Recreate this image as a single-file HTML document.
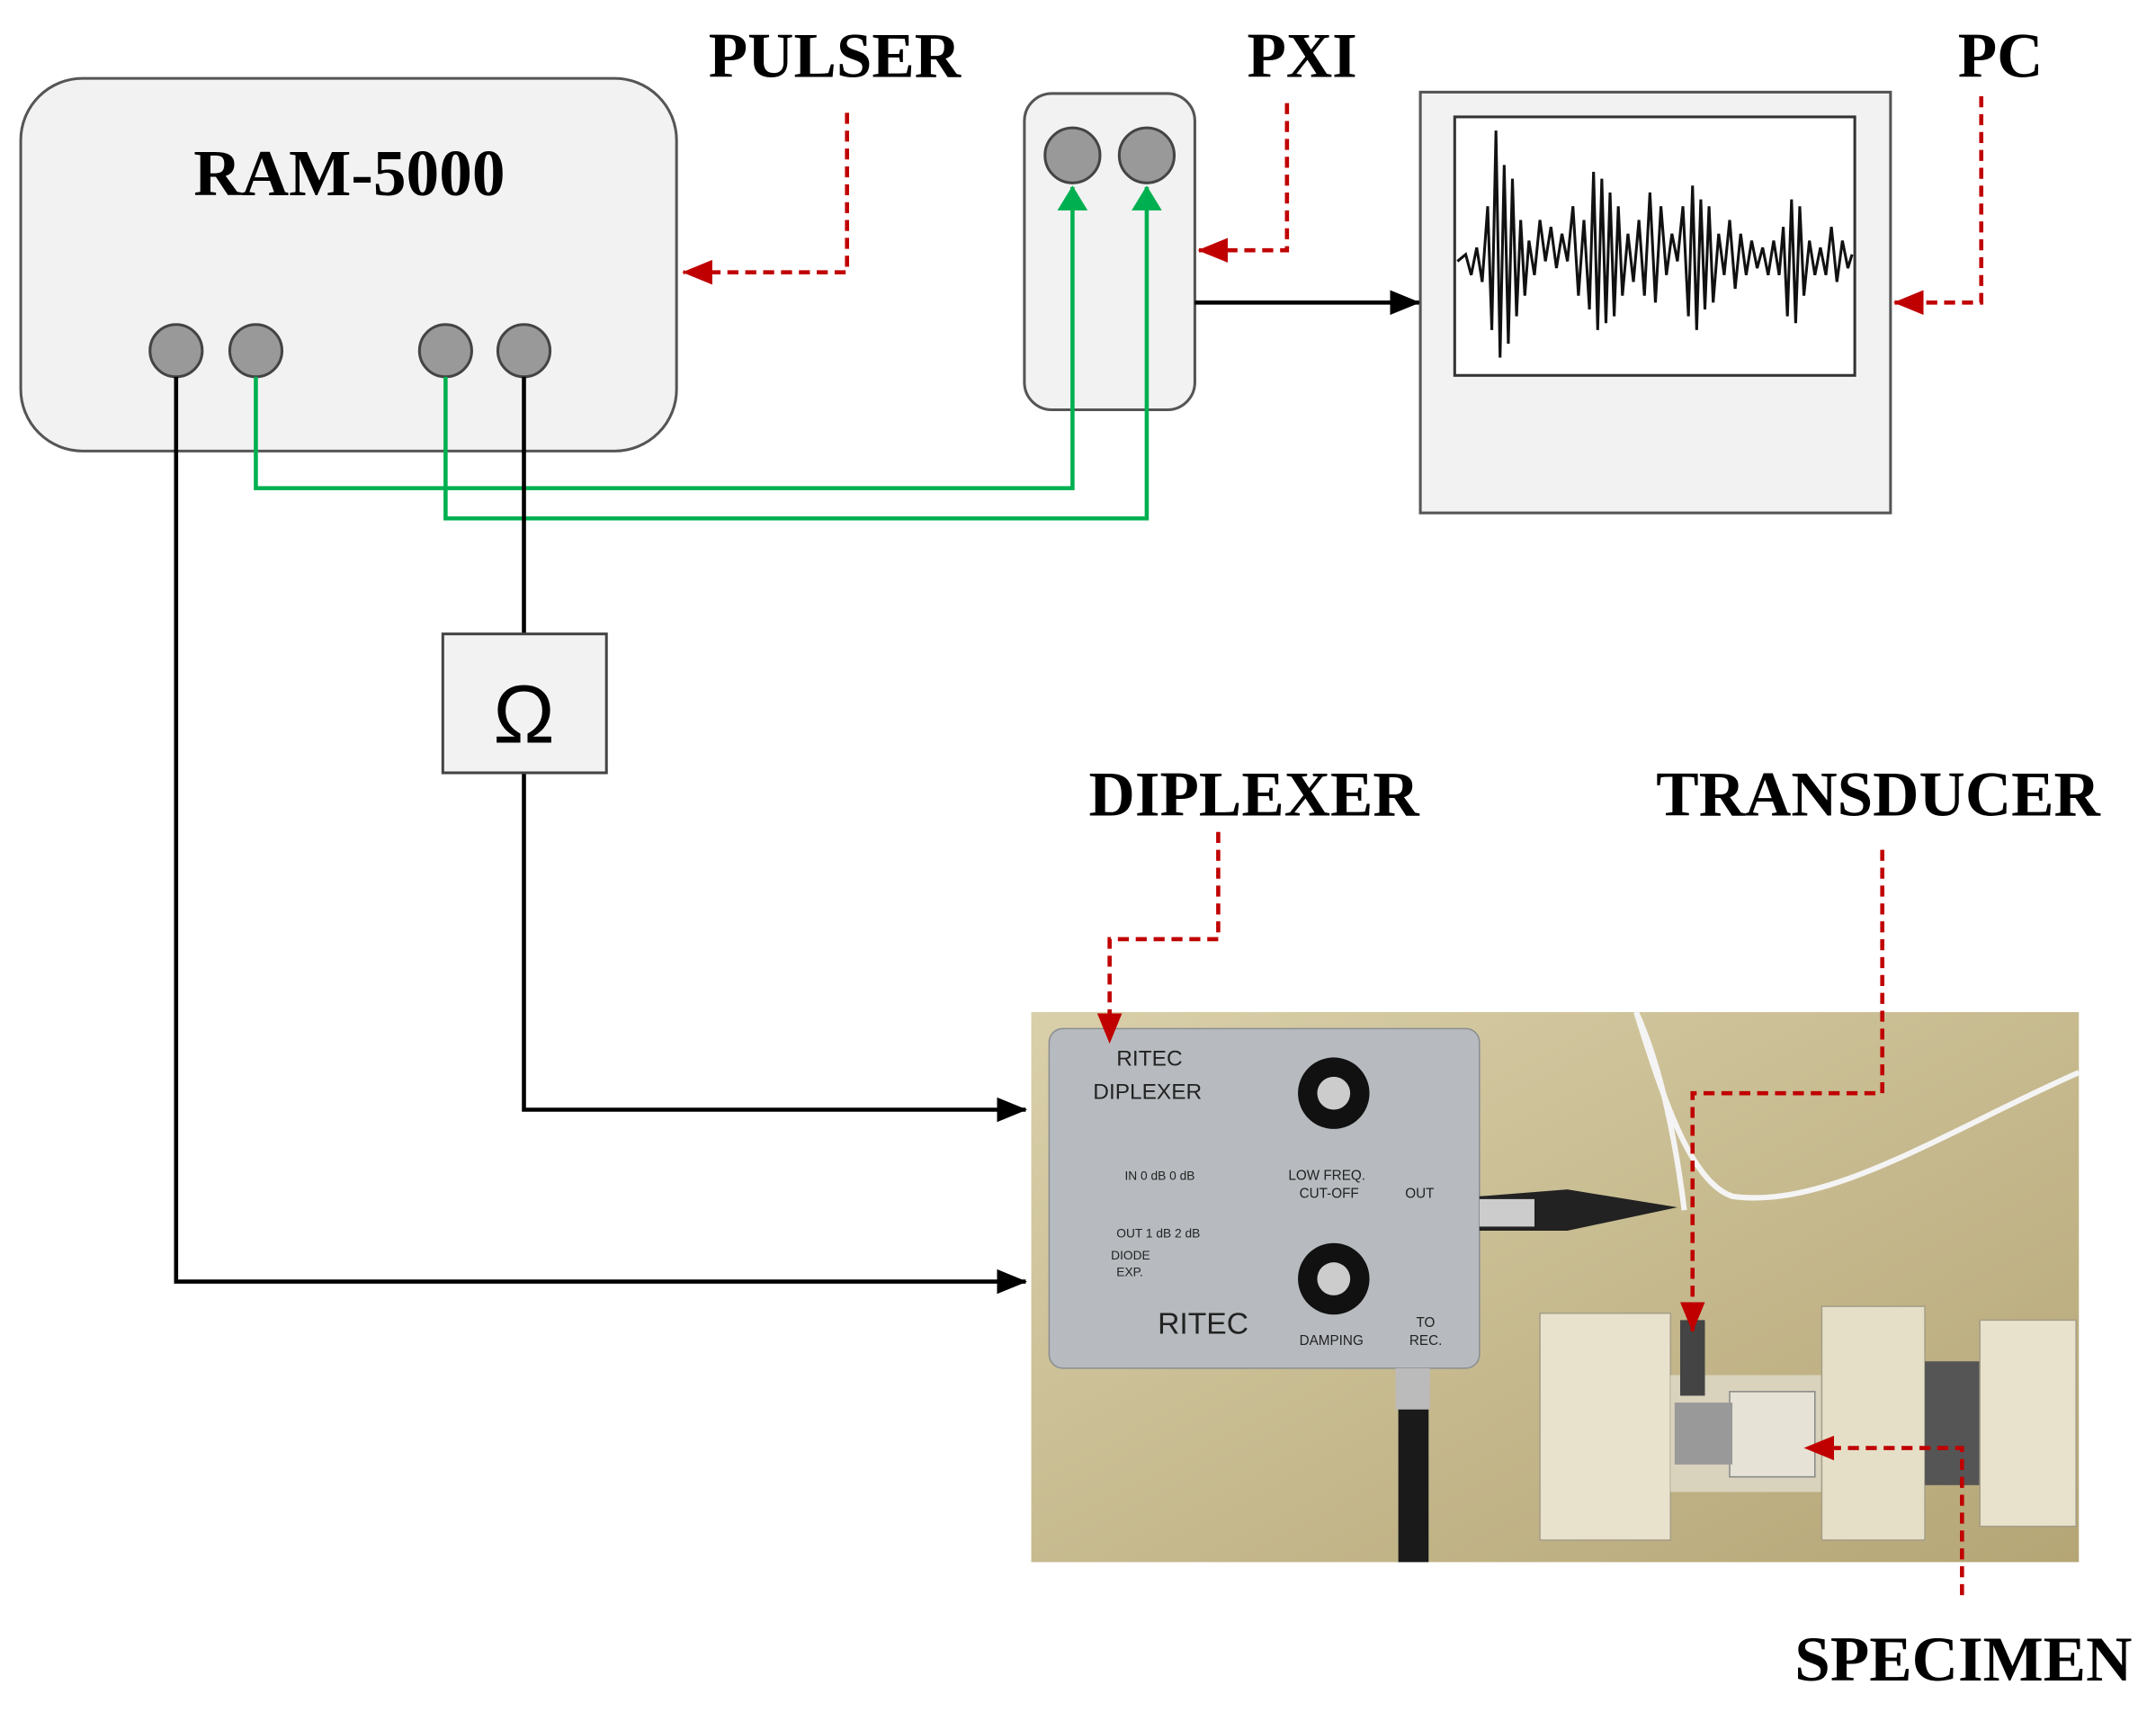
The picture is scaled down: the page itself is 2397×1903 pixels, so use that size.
<!DOCTYPE html>
<html><head><meta charset="utf-8"><style>
html,body{margin:0;padding:0;background:#fff}
svg{display:block}
</style></head><body>
<svg width="2397" height="1903" viewBox="0 0 1568 1245" xmlns="http://www.w3.org/2000/svg" font-family="Liberation Serif, serif">
<defs>
<marker id="ab" markerWidth="22" markerHeight="18" refX="21" refY="9" orient="auto" markerUnits="userSpaceOnUse"><path d="M0,0 L22,9 L0,18 z" fill="#000"/></marker>
<marker id="ag" markerWidth="18" markerHeight="22" refX="17" refY="11" orient="auto" markerUnits="userSpaceOnUse"><path d="M0,0 L18,11 L0,22 z" fill="#00b050"/></marker>
<marker id="arr" markerWidth="22" markerHeight="18" refX="21" refY="9" orient="auto" markerUnits="userSpaceOnUse"><path d="M0,0 L22,9 L0,18 z" fill="#c00000"/></marker>
<linearGradient id="wall" x1="0" y1="0" x2="1" y2="1"><stop offset="0" stop-color="#d9cfa9"/><stop offset="1" stop-color="#b5a676"/></linearGradient>
</defs>

<rect x="15" y="57" width="477" height="271" rx="45" fill="#f2f2f2" stroke="#555" stroke-width="2"/>
<text x="254" y="142" font-size="48" font-weight="bold" text-anchor="middle">RAM-5000</text>
<g fill="#999" stroke="#444" stroke-width="2">
<circle cx="128" cy="255" r="19"/><circle cx="186" cy="255" r="19"/><circle cx="324" cy="255" r="19"/><circle cx="381" cy="255" r="19"/>
</g>

<rect x="745" y="68" width="124" height="230" rx="20" fill="#f2f2f2" stroke="#555" stroke-width="2"/>
<g fill="#999" stroke="#444" stroke-width="2"><circle cx="780" cy="113" r="20"/><circle cx="834" cy="113" r="20"/></g>

<rect x="1033" y="67" width="342" height="306" fill="#f2f2f2" stroke="#555" stroke-width="2"/>
<rect x="1058" y="85" width="291" height="188" fill="#fff" stroke="#333" stroke-width="2"/>
<polyline fill="none" stroke="#111" stroke-width="2" points="1060,190 1066,185 1070,200 1074,180 1078,205 1082,150 1085,240 1088,95 1091,260 1094,120 1097,250 1100,130 1103,230 1106,160 1109,215 1112,175 1116,200 1120,160 1124,190 1128,165 1132,195 1136,170 1140,190 1144,150 1148,215 1152,160 1156,225 1159,125 1162,240 1165,130 1168,235 1171,140 1174,230 1177,150 1180,215 1184,170 1188,205 1192,160 1196,215 1200,140 1204,220 1208,150 1212,200 1216,170 1220,190 1224,150 1228,230 1231,135 1234,240 1237,145 1240,225 1243,150 1246,220 1250,170 1254,200 1258,160 1262,210 1266,170 1270,200 1274,175 1278,195 1282,180 1286,200 1290,175 1294,200 1297,165 1300,230 1303,145 1306,235 1309,150 1312,215 1316,175 1320,200 1324,180 1328,200 1332,165 1336,205 1340,175 1344,195 1347,185"/>

<g font-size="46.5" font-weight="bold" text-anchor="middle">
<text x="607" y="56">PULSER</text>
<text x="947" y="56">PXI</text>
<text x="1455" y="56">PC</text>
<text x="912" y="593">DIPLEXER</text>
<text x="1366" y="593">TRANSDUCER</text>
<text x="1428" y="1222">SPECIMEN</text>
</g>

<g fill="none" stroke="#00b050" stroke-width="3">
<polyline points="186,274 186,355 780,355 780,136" marker-end="url(#ag)"/>
<polyline points="324,274 324,377 834,377 834,136" marker-end="url(#ag)"/>
</g>

<g fill="none" stroke="#000" stroke-width="3">
<line x1="869" y1="220" x2="1032" y2="220" marker-end="url(#ab)"/>
<line x1="381" y1="274" x2="381" y2="461"/>
<polyline points="381,562 381,807 746,807" marker-end="url(#ab)"/>
<polyline points="128,274 128,932 746,932" marker-end="url(#ab)"/>
</g>
<rect x="322" y="461" width="119" height="101" fill="#f2f2f2" stroke="#444" stroke-width="2"/>
<text x="381" y="540" font-size="60" text-anchor="middle" font-family="Liberation Sans, sans-serif">Ω</text>

<rect x="750" y="736" width="762" height="400" fill="url(#wall)"/>
<path d="M1190,736 C1210,800 1230,860 1260,870 C1330,880 1420,820 1512,780" fill="none" stroke="#f4f4f4" stroke-width="4"/>
<path d="M1190,736 C1210,780 1220,840 1225,880" fill="none" stroke="#f4f4f4" stroke-width="4"/>
<rect x="1120" y="955" width="95" height="165" fill="#e8e2cc" stroke="#a59e88"/>
<rect x="1215" y="1000" width="185" height="85" fill="#d9d2bc"/>
<rect x="1325" y="950" width="75" height="170" fill="#e5dfc8" stroke="#a59e88"/>
<rect x="1400" y="990" width="40" height="90" fill="#555"/>
<rect x="1440" y="960" width="70" height="150" fill="#e8e2cc" stroke="#a59e88"/>
<rect x="1258" y="1012" width="62" height="62" fill="#e6e2d6" stroke="#888"/>
<rect x="1218" y="1020" width="42" height="45" fill="#999"/>
<rect x="1222" y="960" width="18" height="55" fill="#444"/>
<rect x="763" y="748" width="313" height="247" rx="10" fill="#b7bbbf" stroke="#8a8e92"/>
<path d="M1076,870 L1140,865 L1220,878 L1140,895 L1076,895 z" fill="#222"/>
<rect x="1076" y="872" width="40" height="20" fill="#ccc"/>
<rect x="1015" y="995" width="25" height="30" fill="#bbb"/>
<rect x="1017" y="1025" width="22" height="111" fill="#1a1a1a"/>
<circle cx="970" cy="795" r="26" fill="#111"/><circle cx="970" cy="795" r="12" fill="#ccc"/>
<circle cx="970" cy="930" r="26" fill="#111"/><circle cx="970" cy="930" r="12" fill="#ccc"/>
<g font-family="Liberation Sans, sans-serif" fill="#222">
<text x="812" y="775" font-size="16">RITEC</text>
<text x="795" y="799" font-size="16">DIPLEXER</text>
<text x="937" y="858" font-size="10">LOW FREQ.</text>
<text x="945" y="871" font-size="10">CUT-OFF</text>
<text x="1022" y="871" font-size="10">OUT</text>
<text x="818" y="858" font-size="9">IN  0 dB    0 dB</text>
<text x="812" y="900" font-size="9">OUT  1 dB    2 dB</text>
<text x="808" y="916" font-size="9">DIODE</text>
<text x="812" y="928" font-size="9">EXP.</text>
<text x="842" y="970" font-size="22">RITEC</text>
<text x="945" y="978" font-size="10">DAMPING</text>
<text x="1030" y="965" font-size="10">TO</text>
<text x="1025" y="978" font-size="10">REC.</text>
</g>

<g fill="none" stroke="#c00000" stroke-width="3" stroke-dasharray="8,5">
<polyline points="616,82 616,198 497,198" marker-end="url(#arr)"/>
<polyline points="936,75 936,182 872,182" marker-end="url(#arr)"/>
<polyline points="1441,70 1441,220 1378,220" marker-end="url(#arr)"/>
<polyline points="886,605 886,683 807,683 807,758" marker-end="url(#arr)"/>
<polyline points="1369,618 1369,795 1231,795 1231,968" marker-end="url(#arr)"/>
<polyline points="1427,1160 1427,1053 1313,1053" marker-end="url(#arr)"/>
</g>
</svg>
</body></html>
